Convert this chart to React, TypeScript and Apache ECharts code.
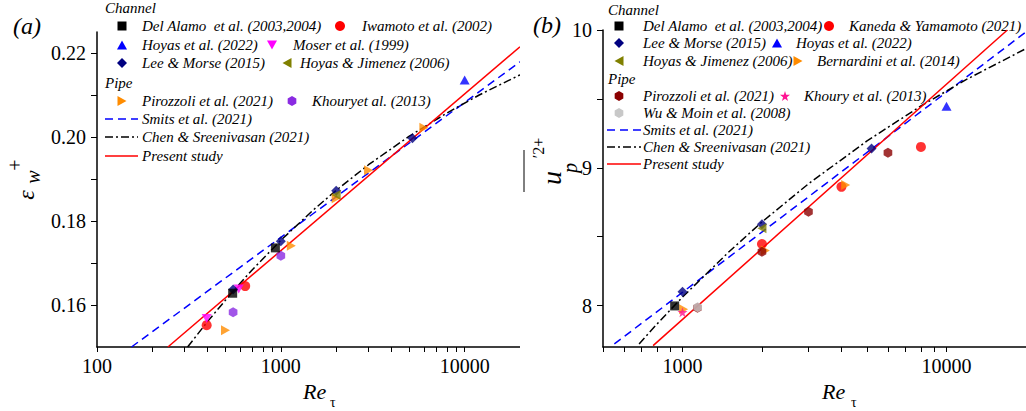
import React, { useEffect, useRef } from 'react';
import * as echarts from 'echarts';

const FONT = "'Liberation Serif', 'Times New Roman', serif";

// ---------- Panel (a): epsilon_w^+ vs Re_tau ----------
const aDelAlamo = [[547, 0.1628], [934, 0.1736]];
const aIwamoto = [[395, 0.1552], [640, 0.1645]];
const aHoyas22 = [[10000, 0.2136]];
const aMoser = [[395, 0.1568], [590, 0.1638]];
const aLeeMoser = [[550, 0.1637], [1000, 0.1752], [2000, 0.1872], [5200, 0.1997]];
const aHoyasJim = [[2000, 0.1862]];
const aPirozzoli = [[500, 0.154], [1140, 0.1741], [2000, 0.1854], [3000, 0.1921], [6000, 0.2022]];
const aKhoury = [[550, 0.1583], [1000, 0.1717]];
const aSmits = [[154, 0.150], [20000, 0.2179]];
const aChen = [[311, 0.150], [400, 0.1561], [550, 0.1633], [700, 0.1684], [1000, 0.1754], [1500, 0.1826], [2000, 0.1873], [3000, 0.1934], [5000, 0.2002], [8000, 0.2057], [12000, 0.2100], [20000, 0.2148]];
const aPresent = [[243, 0.150], [20000, 0.2215]];
const aXLabels = [100, 1000, 10000];
const aXTicks = [100, 200, 300, 400, 500, 600, 700, 800, 900, 1000, 2000, 3000, 4000, 5000, 6000, 7000, 8000, 9000, 10000, 20000];
const aYLabels = [0.16, 0.18, 0.20, 0.22];
const aYTicks = [0.16, 0.17, 0.18, 0.19, 0.20, 0.21, 0.22];

// ---------- Panel (b): u_p'^2+ vs Re_tau ----------
const bDelAlamo = [[934, 7.998]];
const bKaneda = [[2000, 8.447], [4000, 8.862], [8000, 9.152]];
const bLeeMoser = [[1000, 8.101], [2000, 8.59], [5200, 9.141]];
const bHoyas22 = [[10000, 9.447]];
const bHoyasJim = [[2000, 8.561]];
const bBernardini = [[1010, 7.974], [2060, 8.40], [4150, 8.875]];
const bPirozzoli = [[1140, 7.985], [2000, 8.391], [3000, 8.681], [6000, 9.109]];
const bKhoury = [[1000, 7.952]];
const bWuMoin = [[1142, 7.988]];
const bSmits = [[552, 7.722], [20000, 9.986]];
const bChen = [[685, 7.722], [800, 7.866], [1000, 8.062], [1500, 8.391], [2000, 8.607], [3000, 8.884], [5000, 9.195], [8000, 9.449], [12000, 9.645], [20000, 9.865]];
const bPresent = [[774, 7.71], [17000, 10.0]];
const bXLabels = [1000, 10000];
const bXTicks = [500, 600, 700, 800, 900, 1000, 2000, 3000, 4000, 5000, 6000, 7000, 8000, 9000, 10000, 20000];
const bYLabels = [8, 9, 10];
const bYTicks = [8, 8.5, 9, 9.5, 10];

// marker outlines in a 10x10 box
const SHAPES: Record<string, number[][]> = {
  square: [[0, 0], [10, 0], [10, 10], [0, 10]],
  up: [[5, 0.5], [10, 9.5], [0, 9.5]],
  down: [[0, 0.5], [10, 0.5], [5, 9.5]],
  left: [[0.5, 5], [9.5, 0], [9.5, 10]],
  right: [[0.5, 0], [9.5, 5], [0.5, 10]],
  diamond: [[5, 0], [10, 5], [5, 10], [0, 5]],
  hex: [[5, 0], [9.33, 2.5], [9.33, 7.5], [5, 10], [0.67, 7.5], [0.67, 2.5]],
  star: [[5, 0], [6.18, 3.82], [10, 3.82], [6.91, 6.18], [8.09, 10], [5, 7.64], [1.91, 10], [3.09, 6.18], [0, 3.82], [3.82, 3.82]],
};
const symOf = (k: string) => (k === 'circle' ? 'circle' : 'path://' + SHAPES[k].map((p, i) => (i ? 'L' : 'M') + p[0] + ',' + p[1]).join('') + 'Z');

function sc(name: string, data: number[][], shape: string, color: string, size = 10) {
  return { type: 'scatter', name, data, symbol: symOf(shape), symbolSize: size, symbolKeepAspect: true, itemStyle: { color }, z: 3 };
}
function ln(name: string, data: number[][], color: string, type: any) {
  return {
    type: 'line', name, data, symbol: 'none', showSymbol: false, z: 2,
    lineStyle: { color, width: 1.5, type }, itemStyle: { color },
  };
}

const txt = (text: string, x: number, y: number, size: number, italic = true, extra: any = {}) => ({
  type: 'text', x, y,
  style: { text, fontFamily: FONT, fontSize: size, fontStyle: italic ? 'italic' : 'normal', fill: '#000', verticalAlign: 'middle', textAlign: 'left', ...extra },
});
// rotated (reading bottom-to-top) glyph centred at (x, y)
const rtxt = (text: string, x: number, y: number, size: number, italic = true) => ({
  type: 'text', x, y, rotation: Math.PI / 2,
  style: { text, fontFamily: FONT, fontSize: size, fontStyle: italic ? 'italic' : 'normal', fill: '#000', verticalAlign: 'middle', textAlign: 'center' },
});
// legend entry: marker centred at (cx, cy), label starting at tx
function keyMark(shape: string, color: string, cx: number, cy: number, label: string, tx: number, size = 10) {
  const mark = shape === 'circle'
    ? { type: 'circle', shape: { cx, cy, r: size / 2 }, style: { fill: color } }
    : { type: 'polygon', shape: { points: SHAPES[shape].map((p) => [cx + (p[0] - 5) * size / 10, cy + (p[1] - 5) * size / 10]) }, style: { fill: color } };
  return [mark, txt(label, tx, cy, 15)];
}
function keyLine(color: string, dash: any, x1: number, x2: number, cy: number, label: string, tx: number) {
  return [
    { type: 'line', shape: { x1, y1: cy, x2, y2: cy }, style: { stroke: color, lineWidth: 1.5, lineDash: dash } },
    txt(label, tx, cy, 15),
  ];
}

function axes(xmin: number, xmax: number, xl: number[], xt: number[], ymin: number, ymax: number, yl: number[], yt: number[], yfmt: (v: number) => string) {
  const labelStyle = { fontFamily: FONT, fontSize: 20, color: '#000' };
  return {
    xAxis: {
      type: 'log', logBase: 10, min: xmin, max: xmax,
      axisLine: { lineStyle: { color: '#000', width: 1.5 } },
      axisTick: { show: true, customValues: xt, length: 5, lineStyle: { color: '#000', width: 1 } },
      axisLabel: { customValues: xl, margin: 9, ...labelStyle, formatter: (v: number) => String(Math.round(v)) },
      splitLine: { show: false },
    },
    yAxis: {
      type: 'value', min: ymin, max: ymax,
      axisLine: { show: true, lineStyle: { color: '#000', width: 1.5 } },
      axisTick: { show: true, customValues: yt, length: 6, lineStyle: { color: '#000', width: 1 } },
      axisLabel: { customValues: yl, margin: 11, ...labelStyle, formatter: yfmt },
      splitLine: { show: false },
    },
  };
}

const DASH = [8, 5];
const DASHDOT = [8, 3, 2, 3];

function optionA() {
  return {
    animation: false,
    textStyle: { fontFamily: FONT },
    grid: { left: 97, top: 32, right: 0, bottom: 64 },
    ...axes(100, 20000, aXLabels, aXTicks, 0.15, 0.225, aYLabels, aYTicks, (v: number) => v.toFixed(2)),
    series: [
      ln('Smits et al. (2021)', aSmits, '#0000ff', DASH),
      ln('Chen & Sreenivasan (2021)', aChen, '#000000', DASHDOT),
      ln('Present study', aPresent, '#ff0000', 'solid'),
      sc('Pirozzoli et al. (2021)', aPirozzoli, 'right', '#ff8c00'),
      sc('Khouryet al. (2013)', aKhoury, 'hex', '#8a2be2'),
      sc('Iwamoto et al. (2002)', aIwamoto, 'circle', '#ff0000'),
      sc('Moser et al. (1999)', aMoser, 'down', '#ff00ff'),
      sc('Hoyas et al. (2022)', aHoyas22, 'up', '#0000ff'),
      sc('Lee & Morse (2015)', aLeeMoser, 'diamond', '#000080'),
      sc('Hoyas & Jimenez (2006)', aHoyasJim, 'left', '#808000'),
      sc('Del Alamo  et al. (2003,2004)', aDelAlamo, 'square', '#000000', 9),
    ],
    graphic: [
      txt('(a)', 13, 26, 24),
      txt('Channel', 105, 8, 15),
      ...keyMark('square', '#000000', 122, 26, 'Del Alamo  et al. (2003,2004)', 142, 9),
      ...keyMark('circle', '#ff0000', 340, 26, 'Iwamoto et al. (2002)', 362),
      ...keyMark('up', '#0000ff', 122, 45, 'Hoyas et al. (2022)', 142),
      ...keyMark('down', '#ff00ff', 272, 45, 'Moser et al. (1999)', 293),
      ...keyMark('diamond', '#000080', 122, 63, 'Lee & Morse (2015)', 142),
      ...keyMark('left', '#808000', 287, 63, 'Hoyas & Jimenez (2006)', 300),
      txt('Pipe', 105, 83, 15),
      ...keyMark('right', '#ff8c00', 122, 101, 'Pirozzoli et al. (2021)', 142),
      ...keyMark('hex', '#8a2be2', 292, 101, 'Khouryet al. (2013)', 312),
      ...keyLine('#0000ff', DASH, 105, 138, 119, 'Smits et al. (2021)', 142),
      ...keyLine('#000000', DASHDOT, 105, 138, 137, 'Chen & Sreenivasan (2021)', 142),
      ...keyLine('#ff0000', null, 105, 138, 156, 'Present study', 142),
      txt('Re', 303, 391, 22),
      txt('τ', 330, 402, 14, false),
      rtxt('ε', 26, 195, 24),
      rtxt('w', 33, 177, 20),
      rtxt('+', 15, 165, 20, false),
    ],
  };
}

function optionB() {
  const o = 520; // this panel starts at x = 520 on the page
  return {
    animation: false,
    textStyle: { fontFamily: FONT },
    grid: { left: 83, top: 30, right: 0, bottom: 64 },
    ...axes(500, 20000, bXLabels, bXTicks, 7.7, 10, bYLabels, bYTicks, (v: number) => String(v)),
    series: [
      ln('Smits et al. (2021)', bSmits, '#0000ff', DASH),
      ln('Chen & Sreenivasan (2021)', bChen, '#000000', DASHDOT),
      ln('Present study', bPresent, '#ff0000', 'solid'),
      sc('Kaneda & Yamamoto (2021)', bKaneda, 'circle', '#ff0000'),
      sc('Hoyas et al. (2022)', bHoyas22, 'up', '#0000ff'),
      sc('Bernardini et al. (2014)', bBernardini, 'right', '#ff8c00'),
      sc('Pirozzoli et al. (2021)', bPirozzoli, 'hex', '#8b0000'),
      sc('Wu & Moin et al. (2008)', bWuMoin, 'hex', '#c8c8c8'),
      sc('Khoury et al. (2013)', bKhoury, 'star', '#ff1493'),
      sc('Lee & Morse (2015)', bLeeMoser, 'diamond', '#000080'),
      sc('Hoyas & Jimenez (2006)', bHoyasJim, 'left', '#808000'),
      sc('Del Alamo  et al. (2003,2004)', bDelAlamo, 'square', '#000000', 9),
    ],
    graphic: [
      txt('(b)', 13, 25, 24),
      txt('Channel', 608 - o, 10, 15),
      ...keyMark('square', '#000000', 619 - o, 26, 'Del Alamo  et al. (2003,2004)', 643 - o, 9),
      ...keyMark('circle', '#ff0000', 829 - o, 26, 'Kaneda & Yamamoto (2021)', 849 - o),
      ...keyMark('diamond', '#000080', 619 - o, 43, 'Lee & Morse (2015)', 643 - o),
      ...keyMark('up', '#0000ff', 777 - o, 43, 'Hoyas et al. (2022)', 796 - o),
      ...keyMark('left', '#808000', 619 - o, 61, 'Hoyas & Jimenez (2006)', 643 - o),
      ...keyMark('right', '#ff8c00', 798 - o, 61, 'Bernardini et al. (2014)', 817 - o),
      txt('Pipe', 608 - o, 79, 15),
      ...keyMark('hex', '#8b0000', 619 - o, 96, 'Pirozzoli et al. (2021)', 643 - o),
      ...keyMark('star', '#ff1493', 785 - o, 96, 'Khoury et al. (2013)', 804 - o),
      ...keyMark('hex', '#c8c8c8', 619 - o, 113, 'Wu & Moin et al. (2008)', 643 - o),
      ...keyLine('#0000ff', DASH, 607 - o, 641 - o, 130, 'Smits et al. (2021)', 643 - o),
      ...keyLine('#000000', DASHDOT, 607 - o, 641 - o, 147, 'Chen & Sreenivasan (2021)', 643 - o),
      ...keyLine('#ff0000', null, 607 - o, 641 - o, 164, 'Present study', 643 - o),
      txt('Re', 302, 391, 22),
      txt('τ', 331, 402, 14, false),
      rtxt('u', 31, 178, 28),
      rtxt('p', 50, 168, 20),
      rtxt('′2+', 18, 148, 16, false),
      { type: 'line', shape: { x1: 4, y1: 150, x2: 4, y2: 192 }, style: { stroke: '#000', lineWidth: 1 } },
    ],
  };
}

function Chart({ option, left, width }: { option: any; left: number; width: number }) {
  const ref = useRef<HTMLDivElement>(null);
  useEffect(() => {
    if (!ref.current) return;
    const chart = echarts.init(ref.current, undefined, { renderer: 'svg' });
    chart.setOption(option);
    return () => chart.dispose();
  }, []);
  return <div ref={ref} style={{ position: 'absolute', left, top: 0, width, height: 411 }} />;
}

export default function App() {
  return (
    <div style={{ position: 'absolute', left: 0, top: 0, width: 1026, height: 411, background: '#fff' }}>
      <Chart option={optionA()} left={0} width={520} />
      <Chart option={optionB()} left={520} width={506} />
    </div>
  );
}
